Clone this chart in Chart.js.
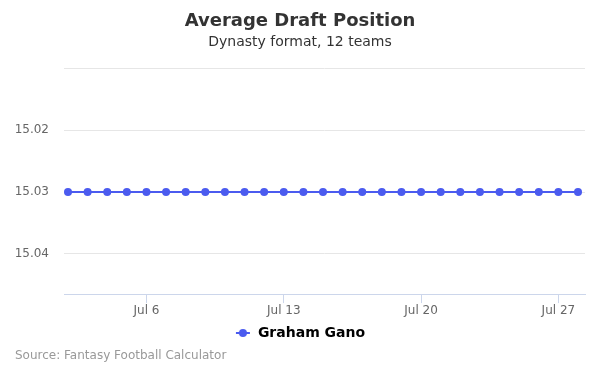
<!DOCTYPE html>
<html>
<head>
<meta charset="utf-8">
<script src="https://cdn.jsdelivr.net/npm/chart.js@4.4.1/dist/chart.umd.min.js"></script>
<style>
html,body{margin:0;padding:0;background:#fff;}
#wrap{width:600px;height:375px;position:relative;}
</style>
</head>
<body>
<div id="wrap"><canvas id="c" width="600" height="375"></canvas></div>
<script>
// Data
const days = [2,3,4,5,6,7,8,9,10,11,12,13,14,15,16,17,18,19,20,21,22,23,24,25,26,27,28];
const adp = [15.03,15.03,15.03,15.03,15.03,15.03,15.03,15.03,15.03,15.03,15.03,15.03,15.03,15.03,15.03,15.03,15.03,15.03,15.03,15.03,15.03,15.03,15.03,15.03,15.03,15.03,15.03];
const xTickDays = [6,13,20,27];
const yTickValues = [15.01,15.02,15.03,15.04];
const seriesName = 'Graham Gano';
const monthLabel = 'Jul';

const FONT = "'DejaVu Sans', sans-serif";
const BLUE = '#4b5bef';

// legend symbol: line with a dot
const sym = document.createElement('canvas');
sym.width = 16; sym.height = 10;
(function(){
  const g = sym.getContext('2d');
  g.strokeStyle = BLUE; g.lineWidth = 2;
  g.beginPath(); g.moveTo(1,5); g.lineTo(15,5); g.stroke();
  g.fillStyle = BLUE; g.beginPath(); g.arc(8,5,4,0,Math.PI*2); g.fill();
})();

const sourcePlugin = {
  id: 'sourceText',
  afterDraw(chart){
    const ctx = chart.ctx;
    ctx.save();
    ctx.font = "12px " + FONT;
    ctx.fillStyle = '#999999';
    ctx.textAlign = 'left';
    ctx.textBaseline = 'middle';
    ctx.fillText('Source: Fantasy Football Calculator', 15, 356);
    ctx.restore();
  }
};

new Chart(document.getElementById('c'), {
  type: 'line',
  data: {
    datasets: [{
      label: seriesName,
      data: days.map((d,i)=>({x:d, y:adp[i]})),
      borderColor: BLUE,
      backgroundColor: BLUE,
      borderWidth: 2,
      pointRadius: 4,
      pointHoverRadius: 5,
      pointBackgroundColor: BLUE,
      pointBorderWidth: 0,
      pointStyle: 'circle',
      tension: 0
    }]
  },
  options: {
    responsive: false,
    animation: false,
    layout: { padding: { left: 15, right: 15, top: 0, bottom: 25 } },
    plugins: {
      title: {
        display: true,
        text: 'Average Draft Position',
        color: '#333333',
        font: { family: FONT, size: 18, weight: 'bold' },
        padding: { top: 10.5, bottom: 1.5 }
      },
      subtitle: {
        display: true,
        text: 'Dynasty format, 12 teams',
        color: '#333333',
        font: { family: FONT, size: 14, weight: 'normal' },
        padding: { top: 0, bottom: 18 }
      },
      legend: {
        display: true,
        position: 'bottom',
        labels: {
          color: '#333333',
          font: { family: FONT, size: 14, weight: 'bold' },
          usePointStyle: true,
          pointStyle: sym,
          pointStyleWidth: 16,
          boxHeight: 10,
          padding: 6.5,
          generateLabels(chart){
            return [{ text: seriesName, pointStyle: sym, fillStyle: BLUE, strokeStyle: BLUE, lineWidth: 0, datasetIndex: 0, hidden: false }];
          }
        }
      },
      tooltip: { enabled: false }
    },
    scales: {
      x: {
        type: 'linear',
        min: 1.796,
        max: 28.357,
        afterBuildTicks(scale){ scale.ticks = xTickDays.map(v=>({value:v})); },
        ticks: {
          color: '#666666',
          font: { family: FONT, size: 12 },
          padding: 1,
          maxRotation: 0,
          autoSkip: false,
          callback: (v)=> monthLabel + ' ' + v
        },
        grid: {
          display: true,
          drawOnChartArea: false,
          drawTicks: true,
          tickLength: 9,
          color: '#ccd6eb',
          lineWidth: 1
        },
        border: { display: true, color: '#ccd6eb', width: 1 }
      },
      y: {
        type: 'linear',
        reverse: true,
        min: 15.01,
        max: 15.0465,
        afterBuildTicks(scale){ scale.ticks = yTickValues.map(v=>({value:v})); },
        afterFit(scale){ scale.width = 49; },
        ticks: {
          color: '#666666',
          font: { family: FONT, size: 12 },
          padding: 15,
          callback: (v)=> Math.abs(v-15.01) < 1e-6 ? '' : v.toFixed(2)
        },
        grid: { color: '#e6e6e6', lineWidth: 1, drawTicks: false },
        border: { display: false }
      }
    }
  },
  plugins: [sourcePlugin]
});
</script>
</body>
</html>
